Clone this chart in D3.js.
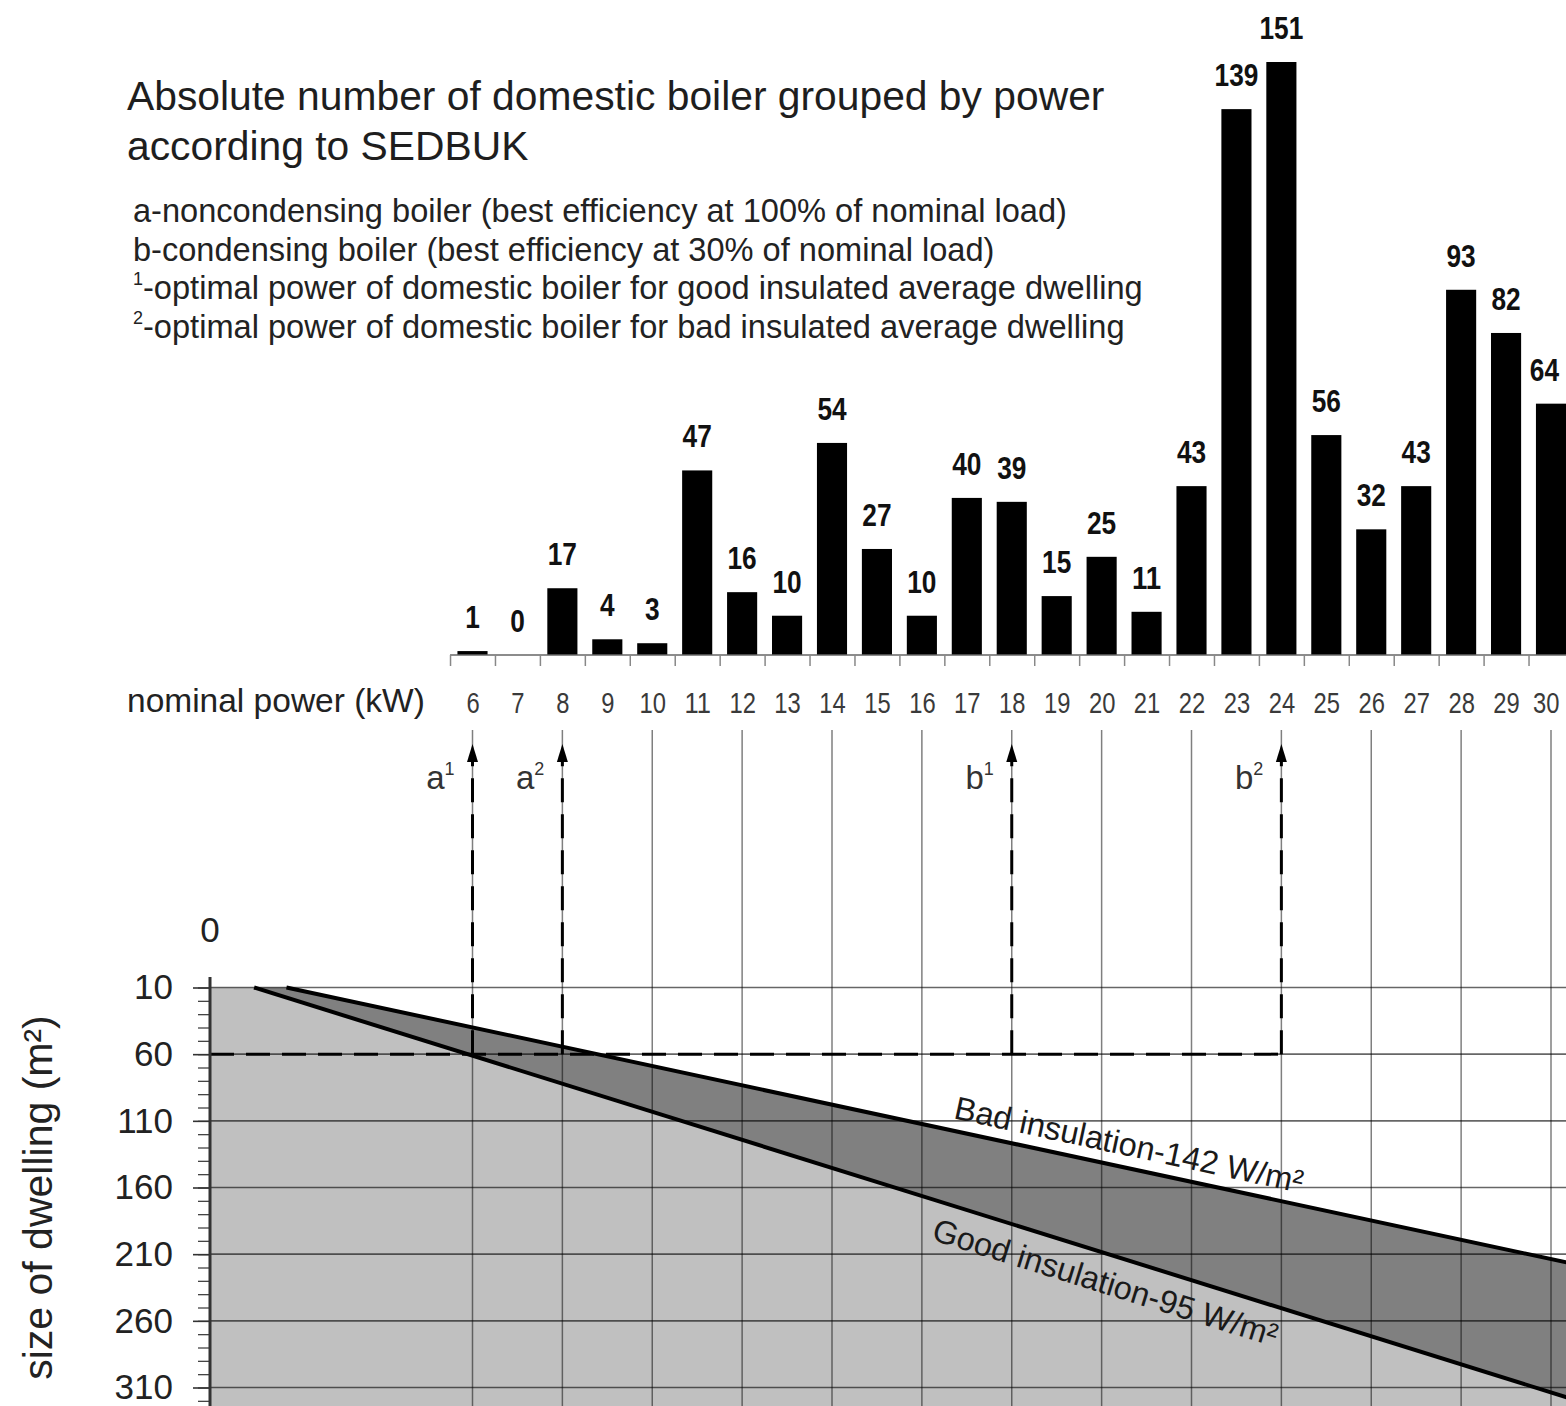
<!DOCTYPE html>
<html><head><meta charset="utf-8">
<script src="https://cdn.jsdelivr.net/npm/d3@7"></script>
<style>
body{margin:0;background:#fff}
svg{display:block}
text{font-family:"Liberation Sans",Arial,sans-serif}
.narrow{font-family:"Liberation Sans Narrow","Arial Narrow","Liberation Sans",sans-serif}
</style></head>
<body>
<svg id="chart" width="1566" height="1406"></svg>
<script>
// ---------- data ----------
const powerKW = [6,7,8,9,10,11,12,13,14,15,16,17,18,19,20,21,22,23,24,25,26,27,28,29,30];
const boilerCounts = [1,0,17,4,3,47,16,10,54,27,10,40,39,15,25,11,43,139,151,56,32,43,93,82,64];
const gridKW = [6,8,10,12,14,16,18,20,22,24,26,28,30];
const dwellingTicks = [10,60,110,160,210,260,310];
const originLabel = "0";
// insulation lines: [kW, m²]
const goodLine = [[1.14,10],[30.6,320]];
const badLine  = [[1.86,10],[30.6,218]];
const optimalArea = 60;
const markerKW = [6,8,18,24];
const markerLetters = ["a","a","b","b"];
const markerSups = ["1","2","1","2"];
const titleLines = ["Absolute number of domestic boiler grouped by power","according to SEDBUK"];
const legendSups = ["","","1","2"];
const legendTexts = [
  "a-noncondensing boiler (best efficiency at 100% of nominal load)",
  "b-condensing boiler (best efficiency at 30% of nominal load)",
  "-optimal power of domestic boiler for good insulated average dwelling",
  "-optimal power of domestic boiler for bad insulated average dwelling"
];
const xAxisTitle = "nominal power (kW)";
const yAxisTitle = "size of dwelling (m²)";
const badLabel = "Bad insulation-142 W/m²";
const goodLabel = "Good insulation-95 W/m²";

// ---------- layout ----------
const W = 1566, H = 1406;
const svg = d3.select("#chart");
const x = d3.scaleLinear().domain([6,30]).range([472.5,1551]);
const yBar = d3.scaleLinear().domain([0,151]).range([655,62]);
const yArea = d3.scaleLinear().domain([10,310]).range([987.5,1387.5]);
const axisX = 210;
const kwLeft = x.invert(axisX);
const areaBottom = yArea.invert(H + 10);
const step = x(1) - x(0);
const bw = step * 0.67;
const fitX = (cx, w) => Math.min(cx, W - 7 - w/2);

// ---------- title & legend ----------
titleLines.forEach((t,i) => {
  svg.append("text").attr("x",127).attr("y",110 + i*50)
    .attr("font-size",40.8).attr("fill","#1e1e1e").text(t);
});
legendTexts.forEach((t,i) => {
  const yy = 222 + i*38.6;
  const txt = svg.append("text").attr("x",133).attr("y",yy)
    .attr("font-size",32.6).attr("fill","#222");
  if (legendSups[i]) {
    txt.append("tspan").attr("font-size",18).attr("dy",-14).text(legendSups[i]);
    txt.append("tspan").attr("dy",14).text(t);
  } else {
    txt.text(t);
  }
});

// ---------- bar chart ----------
svg.append("g").selectAll("rect").data(powerKW).join("rect")
  .attr("x", (d) => x(d) - bw/2)
  .attr("y", (d,i) => yBar(boilerCounts[i]))
  .attr("width", bw)
  .attr("height", (d,i) => yBar(0) - yBar(boilerCounts[i]))
  .attr("fill","#000");

const barLabW = (v) => String(v).length * 0.456 * 32;
svg.append("g").selectAll("text").data(powerKW).join("text")
  .attr("class","narrow")
  .attr("x", (d,i) => fitX(x(d), barLabW(boilerCounts[i])))
  .attr("y", (d,i) => yBar(boilerCounts[i]) - 23)
  .attr("text-anchor","middle")
  .attr("font-size",32).attr("font-weight","bold").attr("fill","#111")
  .attr("textLength", (d,i) => barLabW(boilerCounts[i]))
  .attr("lengthAdjust","spacingAndGlyphs")
  .text((d,i) => boilerCounts[i]);

// baseline + boundary ticks
svg.append("line").attr("x1", x(5.5)).attr("x2", W).attr("y1", yBar(0)).attr("y2", yBar(0))
  .attr("stroke","#666").attr("stroke-width",1.5);
const tickAxis = svg.append("g").attr("transform",`translate(0,${yBar(0)})`)
  .call(d3.axisBottom(x).tickValues(d3.range(5.5, 31, 1)).tickSize(11).tickFormat(""));
tickAxis.select(".domain").remove();
tickAxis.selectAll("line").attr("stroke","#888").attr("stroke-width",1.5);

const tickLabW = (d) => String(d).length * 0.456 * 29;
const labAxis = svg.append("g").attr("transform",`translate(0,${yBar(0)})`)
  .call(d3.axisBottom(x).tickValues(powerKW).tickSize(0).tickFormat(d3.format("d")));
labAxis.select(".domain").remove();
labAxis.selectAll("text")
  .attr("class","narrow")
  .attr("x", d => fitX(x(d), tickLabW(d)) - x(d))
  .attr("y",58).attr("dy",0)
  .attr("font-size",29).attr("fill","#3a3a3a")
  .attr("textLength", d => tickLabW(d))
  .attr("lengthAdjust","spacingAndGlyphs");

svg.append("text").attr("x",127).attr("y",712)
  .attr("font-size",33.5).attr("fill","#222").text(xAxisTitle);

// ---------- lower chart ----------
svg.append("clipPath").attr("id","plotclip")
  .append("rect").attr("x",axisX).attr("y",0).attr("width",W-axisX).attr("height",H);
const lower = svg.append("g").attr("clip-path","url(#plotclip)");

const lineFn = d3.line().x(d => x(d[0])).y(d => yArea(d[1]));
const goodEnd = goodLine[goodLine.length-1];

// light grey: under good line
const lightPoly = [[kwLeft, 10], ...goodLine, [goodEnd[0], areaBottom], [kwLeft, areaBottom]];
lower.append("path").attr("d", lineFn(lightPoly) + "Z").attr("fill","#c0c0c0");
// dark grey: between good and bad lines
const darkPoly = [...badLine, ...goodLine.slice().reverse()];
lower.append("path").attr("d", lineFn(darkPoly) + "Z").attr("fill","#808080");

// grid lines (semi-transparent so they darken over the fills)
lower.append("g").selectAll("line").data(gridKW).join("line")
  .attr("x1", d => x(d)).attr("x2", d => x(d))
  .attr("y1", 730).attr("y2", H)
  .attr("stroke","rgba(0,0,0,0.5)").attr("stroke-width",1.5);
lower.append("g").selectAll("line").data(dwellingTicks).join("line")
  .attr("x1", axisX).attr("x2", W)
  .attr("y1", d => yArea(d)).attr("y2", d => yArea(d))
  .attr("stroke","rgba(0,0,0,0.6)").attr("stroke-width",1.6);

// insulation lines
lower.append("path").attr("d", lineFn(goodLine)).attr("fill","none").attr("stroke","#000").attr("stroke-width",4);
lower.append("path").attr("d", lineFn(badLine)).attr("fill","none").attr("stroke","#000").attr("stroke-width",4);

// dashed optimal lines
lower.append("line")
  .attr("x1", axisX).attr("x2", x(d3.max(markerKW)))
  .attr("y1", yArea(optimalArea)).attr("y2", yArea(optimalArea))
  .attr("stroke","#000").attr("stroke-width",3).attr("stroke-dasharray","24,12");
const arrowTip = 744, arrowBase = 762;
lower.append("g").selectAll("line").data(markerKW).join("line")
  .attr("x1", d => x(d)).attr("x2", d => x(d))
  .attr("y1", yArea(optimalArea)).attr("y2", arrowBase)
  .attr("stroke","#000").attr("stroke-width",3).attr("stroke-dasharray","24,12");
lower.append("g").selectAll("path").data(markerKW).join("path")
  .attr("d", d => `M${x(d)},${arrowTip}L${x(d)+5.5},${arrowBase}L${x(d)-5.5},${arrowBase}Z`)
  .attr("fill","#000");
markerKW.forEach((kw,i) => {
  const t = svg.append("text").attr("x", x(kw) - 18).attr("y", 789)
    .attr("text-anchor","end").attr("font-size",33).attr("fill","#333");
  t.append("tspan").text(markerLetters[i]);
  t.append("tspan").attr("font-size",18).attr("dy",-14).text(markerSups[i]);
});

// line labels
function placeLabel(line, kw, offset, label) {
  const p0 = [x(line[0][0]), yArea(line[0][1])];
  const p1 = [x(line[1][0]), yArea(line[1][1])];
  const ang = Math.atan2(p1[1]-p0[1], p1[0]-p0[0]);
  const t = (x(kw) - p0[0]) / (p1[0]-p0[0]);
  const px = p0[0] + t*(p1[0]-p0[0]);
  const py = p0[1] + t*(p1[1]-p0[1]);
  const nx = -Math.sin(ang), ny = Math.cos(ang);
  svg.append("text")
    .attr("transform", `translate(${px + nx*offset},${py + ny*offset}) rotate(${ang*180/Math.PI})`)
    .attr("font-size",32.5).attr("fill","#1a1a1a").text(label);
}
placeLabel(badLine, 16.63, -12, badLabel);
placeLabel(goodLine, 16.45, 39, goodLabel);

// y axis
const minorAxis = svg.append("g").attr("transform",`translate(${axisX},0)`)
  .call(d3.axisLeft(yArea).tickValues(d3.range(10, 330, 10)).tickSize(12).tickFormat(""));
minorAxis.select(".domain").remove();
minorAxis.selectAll("line").attr("stroke","#444").attr("stroke-width",1.3);
const majorAxis = svg.append("g").attr("transform",`translate(${axisX},0)`)
  .call(d3.axisLeft(yArea).tickValues(dwellingTicks).tickSize(17).tickPadding(20));
majorAxis.select(".domain").remove();
majorAxis.selectAll("line").attr("stroke","#333").attr("stroke-width",1.6);
majorAxis.selectAll("text").attr("font-size",35).attr("fill","#222")
  .attr("font-family","Liberation Sans, Arial, sans-serif");
svg.append("line").attr("x1",axisX).attr("x2",axisX).attr("y1",977).attr("y2",H)
  .attr("stroke","#333").attr("stroke-width",3);
svg.append("text").attr("x",axisX).attr("y",942).attr("text-anchor","middle")
  .attr("font-size",35).attr("fill","#222").text(originLabel);

svg.append("text")
  .attr("transform",`translate(52,${(1015+1380)/2}) rotate(-90)`)
  .attr("text-anchor","middle").attr("font-size",41).attr("fill","#222")
  .text(yAxisTitle);
</script>
</body></html>
